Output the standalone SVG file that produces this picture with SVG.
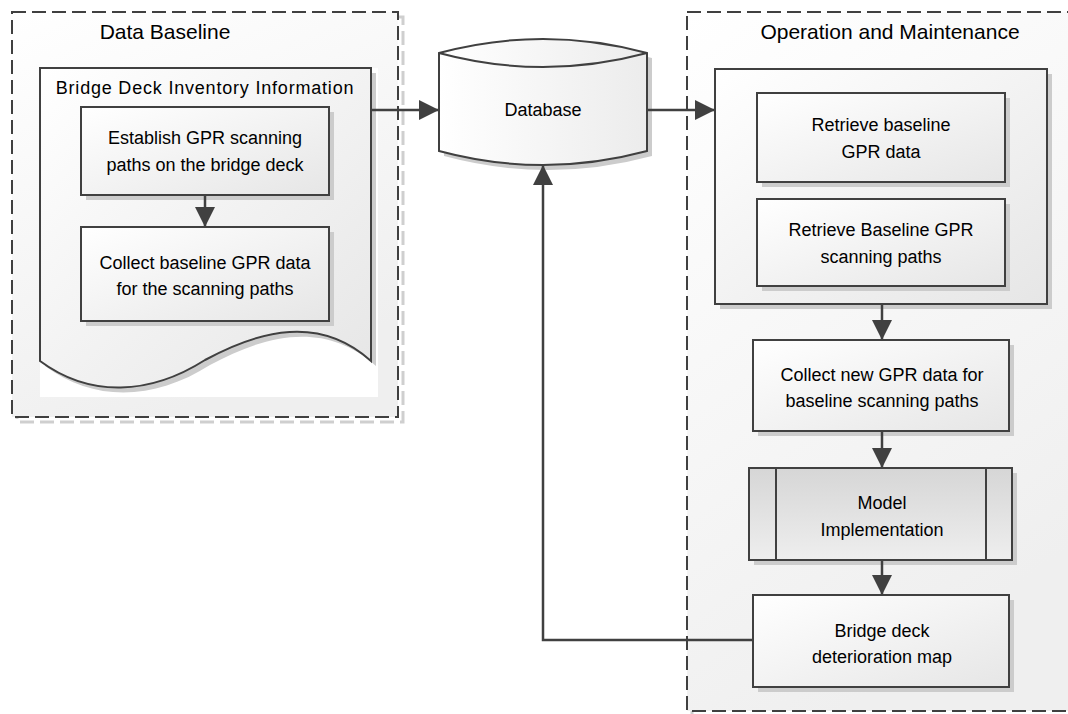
<svg xmlns="http://www.w3.org/2000/svg" width="1068" height="714" viewBox="0 0 1068 714">
<style>
.t{font-family:"Liberation Sans",Arial,sans-serif;fill:#000;text-anchor:middle}
.s18{font-size:18px}
.s21{font-size:21px}
.box{stroke:#404040;stroke-width:2;fill:url(#gBox)}
.shd{fill:#cccccc;stroke:none}
.cont{stroke:#404040;stroke-width:2;stroke-dasharray:14 6}
.cshd{fill:none;stroke:#cfcfcf;stroke-width:3;stroke-dasharray:14 6}
.con{fill:none;stroke:#404040;stroke-width:2.5;marker-end:url(#arr)}
</style>
<defs>
<linearGradient id="gBox" x1="0" y1="0" x2="1" y2="1">
<stop offset="0" stop-color="#ffffff"/><stop offset="1" stop-color="#e6e6e6"/>
</linearGradient>
<linearGradient id="gCont" x1="0" y1="0" x2="0.4" y2="1">
<stop offset="0" stop-color="#ffffff"/><stop offset="1" stop-color="#efefef"/>
</linearGradient>
<linearGradient id="gDB" x1="0" y1="0" x2="1" y2="0">
<stop offset="0" stop-color="#ffffff"/><stop offset="1" stop-color="#ececec"/>
</linearGradient>
<linearGradient id="gModel" x1="0" y1="0" x2="0" y2="1">
<stop offset="0" stop-color="#d6d6d6"/><stop offset="1" stop-color="#eeeeee"/>
</linearGradient>
<marker id="arr" markerUnits="userSpaceOnUse" markerWidth="21" markerHeight="20" refX="20" refY="10" orient="auto">
<path d="M0,0 L20,10 L0,20 z" fill="#404040"/>
</marker>
</defs>
<rect width="1068" height="714" fill="#ffffff"/>

<g id="data-baseline">
<rect x="17" y="17" width="386" height="405" class="cshd"/>
<rect x="12" y="12" width="386" height="405" fill="url(#gCont)" class="cont"/>
<text x="165" y="39" class="t s21">Data Baseline</text>
</g>

<g id="bridge-deck-inventory">
<rect x="40" y="68" width="338" height="329" fill="#ffffff"/>
<path d="M45,73 H376 V366 C325,320 265,335 210,365 C155,400 95,403 45,366 Z" class="shd"/>
<path d="M40,68 H371 V361 C320,315 260,330 205,360 C150,395 90,398 40,361 Z" fill="url(#gBox)" stroke="#404040" stroke-width="2"/>
<text x="205" y="94" class="t s18" letter-spacing="0.8">Bridge Deck Inventory Information</text>
</g>

<g id="establish-paths">
<rect x="86" y="112" width="248" height="88" class="shd"/>
<rect x="81" y="107" width="248" height="88" class="box"/>
<text x="205" y="144" class="t s18">Establish GPR scanning</text>
<text x="205" y="171" class="t s18">paths on the bridge deck</text>
</g>

<g id="collect-baseline">
<rect x="86" y="232" width="248" height="94" class="shd"/>
<rect x="81" y="227" width="248" height="94" class="box"/>
<text x="205" y="269" class="t s18">Collect baseline GPR data</text>
<text x="205" y="295" class="t s18">for the scanning paths</text>
</g>

<g id="database">
<path d="M444,58 Q548,30 652,58 L652,156 Q548,184 444,156 Z" class="shd"/>
<path d="M439,53 Q543,25 647,53 L647,151 Q543,179 439,151 Z" fill="url(#gDB)" stroke="#404040" stroke-width="2"/>
<path d="M439,53 Q543,81 647,53" fill="none" stroke="#404040" stroke-width="2"/>
<text x="543" y="116" class="t s18">Database</text>
</g>

<g id="operation-maintenance">
<rect x="692" y="17" width="390" height="699" class="cshd"/>
<rect x="687" y="12" width="390" height="699" fill="url(#gCont)" class="cont"/>
<text x="890" y="39" class="t s21">Operation and Maintenance</text>
</g>

<g id="retrieve-group">
<rect x="720" y="74" width="332" height="235" class="shd"/>
<rect x="715" y="69" width="332" height="235" class="box"/>
</g>

<g id="retrieve-data">
<rect x="762" y="98" width="248" height="89" class="shd"/>
<rect x="757" y="93" width="248" height="89" class="box"/>
<text x="881" y="131" class="t s18">Retrieve baseline</text>
<text x="881" y="158" class="t s18">GPR data</text>
</g>

<g id="retrieve-paths">
<rect x="762" y="204" width="248" height="87" class="shd"/>
<rect x="757" y="199" width="248" height="87" class="box"/>
<text x="881" y="236" class="t s18">Retrieve Baseline GPR</text>
<text x="881" y="263" class="t s18">scanning paths</text>
</g>

<g id="collect-new">
<rect x="758" y="345" width="256" height="91" class="shd"/>
<rect x="753" y="340" width="256" height="91" class="box"/>
<text x="882" y="381" class="t s18">Collect new GPR data for</text>
<text x="882" y="407" class="t s18">baseline scanning paths</text>
</g>

<g id="model-implementation">
<rect x="754" y="473" width="263" height="92" class="shd"/>
<rect x="749" y="468" width="263" height="92" fill="url(#gModel)" stroke="#404040" stroke-width="2"/>
<line x1="776" y1="468" x2="776" y2="560" stroke="#404040" stroke-width="2"/>
<line x1="986" y1="468" x2="986" y2="560" stroke="#404040" stroke-width="2"/>
<text x="882" y="509" class="t s18">Model</text>
<text x="882" y="536" class="t s18">Implementation</text>
</g>

<g id="deterioration-map">
<rect x="758" y="600" width="256" height="92" class="shd"/>
<rect x="753" y="595" width="256" height="92" class="box"/>
<text x="882" y="637" class="t s18">Bridge deck</text>
<text x="882" y="663" class="t s18">deterioration map</text>
</g>

<g id="connectors">
<path d="M371,110 H439" class="con"/>
<path d="M647,110 H715" class="con"/>
<path d="M205,195 V227" class="con"/>
<path d="M882,304 V340" class="con"/>
<path d="M882,431 V468" class="con"/>
<path d="M882,560 V595" class="con"/>
<path d="M753,640 H543 V165" class="con"/>
</g>
</svg>
